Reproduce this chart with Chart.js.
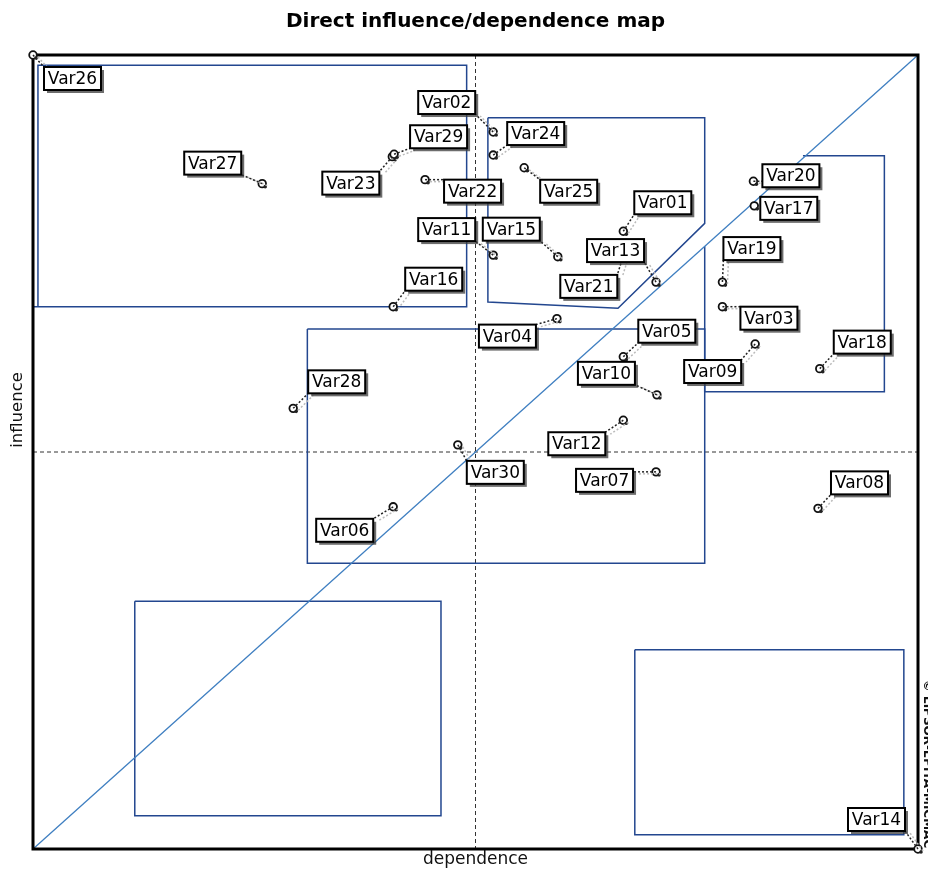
<!DOCTYPE html>
<html>
<head>
<meta charset="utf-8">
<style>
  html, body { margin: 0; padding: 0; background: #fff; }
  canvas { display: block; }
</style>
<script src="https://cdn.jsdelivr.net/npm/chart.js@4/dist/chart.umd.min.js"></script>
</head>
<body>
<canvas id="c" width="928" height="869"></canvas>
<script>
// ---- DATA ----
const categories = ['Var01','Var02','Var03','Var04','Var05','Var06','Var07','Var08','Var09','Var10',
                    'Var11','Var12','Var13','Var14','Var15','Var16','Var17','Var18','Var19','Var20',
                    'Var21','Var22','Var23','Var24','Var25','Var26','Var27','Var28','Var29','Var30'];
const dependence = [66.7, 52.0, 77.9, 59.2, 66.7, 40.7, 70.4, 88.7, 81.6, 70.5,
                    52.0, 66.7, 70.4, 100.0, 59.3, 40.7, 81.5, 88.9, 77.9, 81.4,
                    66.7, 44.3, 40.6, 52.0, 55.5, 0.0, 25.9, 29.4, 40.8, 48.0];
const influence  = [77.8, 90.3, 68.3, 66.8, 62.0, 43.1, 47.5, 42.9, 63.6, 57.2,
                    74.8, 54.0, 71.4, 0.0, 74.6, 68.3, 81.0, 60.5, 71.4, 84.1,
                    74.7, 84.3, 87.2, 87.4, 85.8, 100.0, 83.8, 55.5, 87.5, 50.9];
const axisMin = 0, axisMax = 100, axisMid = 50;
// zone outlines (dependence, influence)
const zoneInfluent   = [[0,68.3],[49.0,68.3],[49.0,98.7],[0.56,98.7],[0.56,68.3]];
const zoneRelay      = [[51.4,92.1],[75.9,92.1],[75.9,78.8],[66.1,68.1],[51.4,68.9],[51.4,92.1]];
const zoneStakes     = [[87.0,87.3],[96.2,87.3],[96.2,57.6],[75.9,57.6],[75.9,75.9]];
const zoneRegulating = [[31.0,65.5],[75.9,65.5],[75.9,36.0],[31.0,36.0],[31.0,65.5]];
const zoneExcluded   = [[11.5,31.2],[46.1,31.2],[46.1,4.2],[11.5,4.2],[11.5,31.2]];
const zoneDependent  = [[68.0,25.1],[98.4,25.1],[98.4,1.8],[68.0,1.8],[68.0,25.1]];
const diagonal = [[0,0],[100,100]];
const titleText = 'Direct influence/dependence map';
const xTitle = 'dependence';
const yTitle = 'influence';
const copyrightText = '\u00A9 LIPSOR-EPITA-MICMAC';

// ---- LAYOUT (label box offsets from the point, px) ----
const labelOffsets = {
  Var01:[11,-40], Var02:[-75,-41], Var03:[18,0], Var04:[-78,6], Var05:[15,-37],
  Var06:[-77,12], Var07:[-80,-3], Var08:[13,-37], Var09:[-71,16], Var10:[-79,-33],
  Var11:[-75,-37], Var12:[-75,12], Var13:[-69,-43], Var14:[-70,-41], Var15:[-75,-39],
  Var16:[12,-39], Var17:[6,-9], Var18:[14,-38], Var19:[1,-45], Var20:[9,-17],
  Var21:[-63,19], Var22:[19,0], Var23:[-70,15], Var24:[14,-33], Var25:[16,12],
  Var26:[11,12], Var27:[-78,-32], Var28:[15,-38], Var29:[16,-29], Var30:[9,16]
};

const points = categories.map((c, i) => ({ x: dependence[i], y: influence[i], label: c }));

function poly(ctx, xs, ys, pts) {
  ctx.beginPath();
  pts.forEach((p, i) => {
    const px = xs.getPixelForValue(p[0]), py = ys.getPixelForValue(p[1]);
    if (i === 0) ctx.moveTo(px, py); else ctx.lineTo(px, py);
  });
  ctx.stroke();
}

const overlay = {
  id: 'overlay',
  beforeDatasetsDraw(chart) {
    const { ctx, chartArea: a, scales: { x, y } } = chart;
    ctx.save();
    ctx.strokeStyle = '#333';
    ctx.lineWidth = 1;
    ctx.setLineDash([4, 3]);
    const mx = x.getPixelForValue(axisMid), my = y.getPixelForValue(axisMid);
    ctx.beginPath(); ctx.moveTo(mx, a.top); ctx.lineTo(mx, a.bottom); ctx.stroke();
    ctx.beginPath(); ctx.moveTo(a.left, my); ctx.lineTo(a.right, my); ctx.stroke();
    ctx.setLineDash([]);
    ctx.strokeStyle = '#23478f';
    ctx.lineWidth = 1.5;
    [zoneInfluent, zoneRelay, zoneStakes, zoneRegulating, zoneExcluded, zoneDependent]
      .forEach(z => poly(ctx, x, y, z));
    ctx.strokeStyle = '#3f7fc1';
    ctx.lineWidth = 1.3;
    poly(ctx, x, y, diagonal);
    ctx.strokeStyle = '#000';
    ctx.lineWidth = 3;
    ctx.strokeRect(a.left, a.top, a.right - a.left, a.bottom - a.top);
    ctx.restore();
  },
  afterDatasetsDraw(chart) {
    const { ctx } = chart;
    const meta = chart.getDatasetMeta(0);
    ctx.save();
    ctx.font = '17px "DejaVu Sans", sans-serif';
    const boxes = [];
    meta.data.forEach((el, i) => {
      const name = categories[i];
      const off = labelOffsets[name];
      const tw = ctx.measureText(name).width;
      const w = Math.round(tw + 8), h = 23;
      const bx = el.x + off[0], by = el.y + off[1];
      boxes.push({ el, name, bx, by, w, h });
    });
    boxes.forEach(b => {
      const px = b.el.x, py = b.el.y;
      ctx.fillStyle = '#222';
      ctx.beginPath(); ctx.arc(px + 3, py + 3, 1.8, 0, Math.PI * 2); ctx.fill();
      const cx = Math.min(Math.max(px, b.bx), b.bx + b.w);
      const cy = Math.min(Math.max(py, b.by), b.by + b.h);
      const d = Math.hypot(cx - px, cy - py);
      if (d > 8) {
        ctx.lineWidth = 1.5;
        ctx.setLineDash([2, 2]);
        ctx.strokeStyle = '#bbb';
        ctx.beginPath(); ctx.moveTo(px + 5, py + 2); ctx.lineTo(cx + 5, cy + 2); ctx.stroke();
        ctx.strokeStyle = '#222';
        ctx.beginPath(); ctx.moveTo(px, py); ctx.lineTo(cx, cy); ctx.stroke();
        ctx.setLineDash([]);
      }
    });
    boxes.forEach(b => {
      ctx.fillStyle = 'rgba(60,60,60,0.75)';
      ctx.fillRect(b.bx + 3, b.by + 3, b.w, b.h);
      ctx.fillStyle = '#fff';
      ctx.fillRect(b.bx, b.by, b.w, b.h);
      ctx.strokeStyle = '#000';
      ctx.lineWidth = 2;
      ctx.strokeRect(b.bx, b.by, b.w, b.h);
      ctx.fillStyle = '#000';
      ctx.textAlign = 'center';
      ctx.textBaseline = 'middle';
      ctx.fillText(b.name, b.bx + b.w / 2, b.by + b.h / 2 + 1);
    });
    ctx.restore();
  },
  afterDraw(chart) {
    const { ctx, chartArea: a } = chart;
    ctx.save();
    ctx.fillStyle = '#000';
    ctx.textAlign = 'center';
    ctx.textBaseline = 'middle';
    ctx.font = 'bold 20px "DejaVu Sans", sans-serif';
    ctx.fillText(titleText, (a.left + a.right) / 2, 22);
    ctx.fillStyle = '#111';
    ctx.font = '17px "DejaVu Sans", sans-serif';
    ctx.fillText(xTitle, (a.left + a.right) / 2, a.bottom + 11);
    ctx.save();
    ctx.translate(a.left - 15, 410);
    ctx.rotate(-Math.PI / 2);
    ctx.font = '16.5px "DejaVu Sans", sans-serif';
    ctx.fillText(yTitle, 0, 0);
    ctx.restore();
    ctx.save();
    ctx.translate(a.right + 9, a.bottom - 85);
    ctx.rotate(Math.PI / 2);
    ctx.font = 'bold 12px "DejaVu Sans", sans-serif';
    ctx.fillText(copyrightText, 0, 0);
    ctx.restore();
    ctx.restore();
  }
};

new Chart(document.getElementById('c'), {
  type: 'scatter',
  data: {
    datasets: [{
      data: points,
      pointRadius: 3.8,
      pointHoverRadius: 3.8,
      pointBackgroundColor: '#fff',
      pointBorderColor: '#111',
      pointBorderWidth: 1.8
    }]
  },
  options: {
    responsive: false,
    animation: false,
    devicePixelRatio: 1,
    layout: { padding: { left: 33, right: 10, top: 55, bottom: 20 } },
    plugins: { legend: { display: false }, tooltip: { enabled: false }, title: { display: false } },
    scales: {
      x: { type: 'linear', min: axisMin, max: axisMax, display: false },
      y: { type: 'linear', min: axisMin, max: axisMax, display: false }
    },
    clip: false
  },
  plugins: [overlay]
});
</script>
</body>
</html>
